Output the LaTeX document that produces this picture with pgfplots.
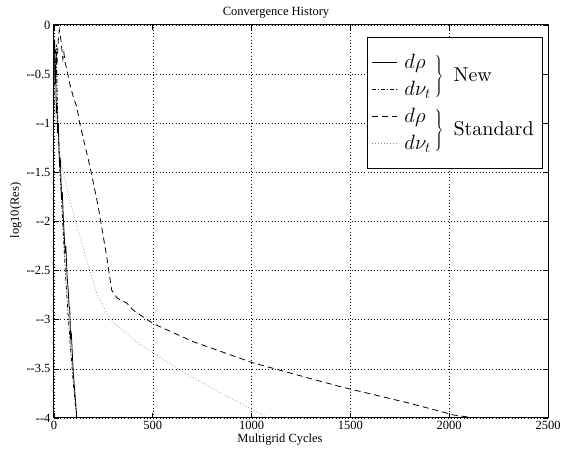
\documentclass[border=0pt]{standalone}
\usepackage{fontspec}
\usepackage{pgfplots}
\pgfplotsset{compat=1.18}
\newfontfamily\tnr{Liberation Serif}
\newfontfamily\lmten{lmroman10-regular}[Extension=.otf]
\newcommand{\lgbrace}[1]{\smash{\raisebox{-13.5pt}{$\left.\vcenter{\hbox{\rule{0pt}{42pt}}}\right\}$\hspace{10pt}#1\hspace{4pt}}}}

\begin{document}
\begin{tikzpicture}
\begin{axis}[
  scale only axis, width=494pt, height=393pt,
  xmin=0, xmax=2500, ymin=-4, ymax=0,
  xtick={0,500,1000,1500,2000,2500},
  xticklabels={0,500,1000,1500,2000,2500},
  ytick={-4,-3.5,-3,-2.5,-2,-1.5,-1,-0.5,0},
  yticklabels={--4,--3.5,--3,--2.5,--2,--1.5,--1,--0.5,0},
  tick align=inside, tick pos=both,
  major tick length=5pt,
  grid=major,
  grid style={black, dash pattern=on 0.8pt off 2.4pt, line width=0.5pt},
  axis line style={line width=1pt},
  every tick/.style={black, line width=0.6pt},
  tick label style={font=\tnr\fontsize{12.5}{13}\selectfont},
  /pgf/number format/assume math mode=true,
  title={Convergence History},
  title style={font=\tnr\fontsize{12.5}{13}\selectfont, yshift=-3pt, xshift=-25pt},
  xlabel={Multigrid Cycles}, ylabel={log10(Res)},
  label style={font=\tnr\fontsize{12.5}{13}\selectfont},
  xlabel style={yshift=3pt, xshift=-21pt},
  ylabel style={yshift=-2pt, xshift=11pt},
  legend image code/.code={\draw[#1] (0pt,0pt) -- (25pt,0pt);},
  legend cell align=left,
  legend style={at={(0.99,0.969)}, anchor=north east, draw=black, line width=0.8pt,
    font=\lmten\fontsize{20}{22}\selectfont, row sep=6pt, column sep=6pt,
    inner xsep=4pt, inner ysep=14.5pt,
    nodes={inner sep=1pt, text height=15pt, text depth=4pt}},
]
\addplot[black, line width=0.8pt] coordinates {
(0,-0.3) (3,-0.15) (6,-0.6) (8,-0.4) (12,-0.9) (15,-0.8) (18,-1.1) (22,-1.0)
(28,-1.45) (32,-1.35) (38,-1.75) (42,-1.7) (48,-2.0) (56,-2.3) (60,-2.25)
(66,-2.55) (72,-2.7) (76,-2.85) (80,-2.9) (84,-3.2) (88,-3.15) (94,-3.4)
(98,-3.55) (104,-3.7) (110,-3.85) (115,-4.0)};
\addlegendentry{\makebox[29pt][l]{$d\rho$}\lgbrace{New}}
\addplot[black, line width=0.8pt, dash pattern=on 4pt off 2pt on 1pt off 2pt] coordinates {
(0,-0.9) (4,-0.3) (8,-0.6) (12,-0.2) (16,-0.7) (20,-1.0) (26,-1.3) (30,-1.5)
(36,-1.7) (44,-2.0) (52,-2.3) (60,-2.6) (70,-2.9) (80,-3.2) (90,-3.45)
(100,-3.7) (110,-3.9) (118,-4.0)};
\addlegendentry{$d\nu_t$}
\addplot[black, line width=0.8pt, dash pattern=on 6pt off 4pt] coordinates {
(0,-0.5) (8,-0.25) (15,-0.4) (22,-0.15) (27,-0.05) (35,-0.15) (45,-0.35)
(50,-0.28) (56,-0.38) (65,-0.45) (80,-0.6) (100,-0.75) (115,-0.83) (130,-1.0)
(182,-1.44) (224,-1.85) (267,-2.36) (292,-2.70) (320,-2.78) (368,-2.83)
(400,-2.90) (435,-2.95) (503,-3.04) (700,-3.22) (1009,-3.44) (1447,-3.68)
(1800,-3.85) (2024,-3.97) (2130,-4.0)};
\addlegendentry{\makebox[29pt][l]{$d\rho$}\lgbrace{Standard}}
\addplot[gray!85, line width=0.7pt, dash pattern=on 0.8pt off 2.2pt] coordinates {
(0,-0.3) (5,-0.8) (13,-1.14) (47,-1.51) (98,-1.92) (165,-2.39) (216,-2.73)
(283,-3.0) (385,-3.17) (435,-3.25) (503,-3.34) (638,-3.51) (800,-3.70)
(1009,-3.92) (1085,-4.0)};
\addlegendentry{$d\nu_t$}
\coordinate (ll) at (rel axis cs:0,0);
\end{axis}
\pgfresetboundingbox
\path[use as bounding box] (ll) ++(-54pt,-42pt) rectangle ++(566pt,460pt);
\end{tikzpicture}
\end{document}
